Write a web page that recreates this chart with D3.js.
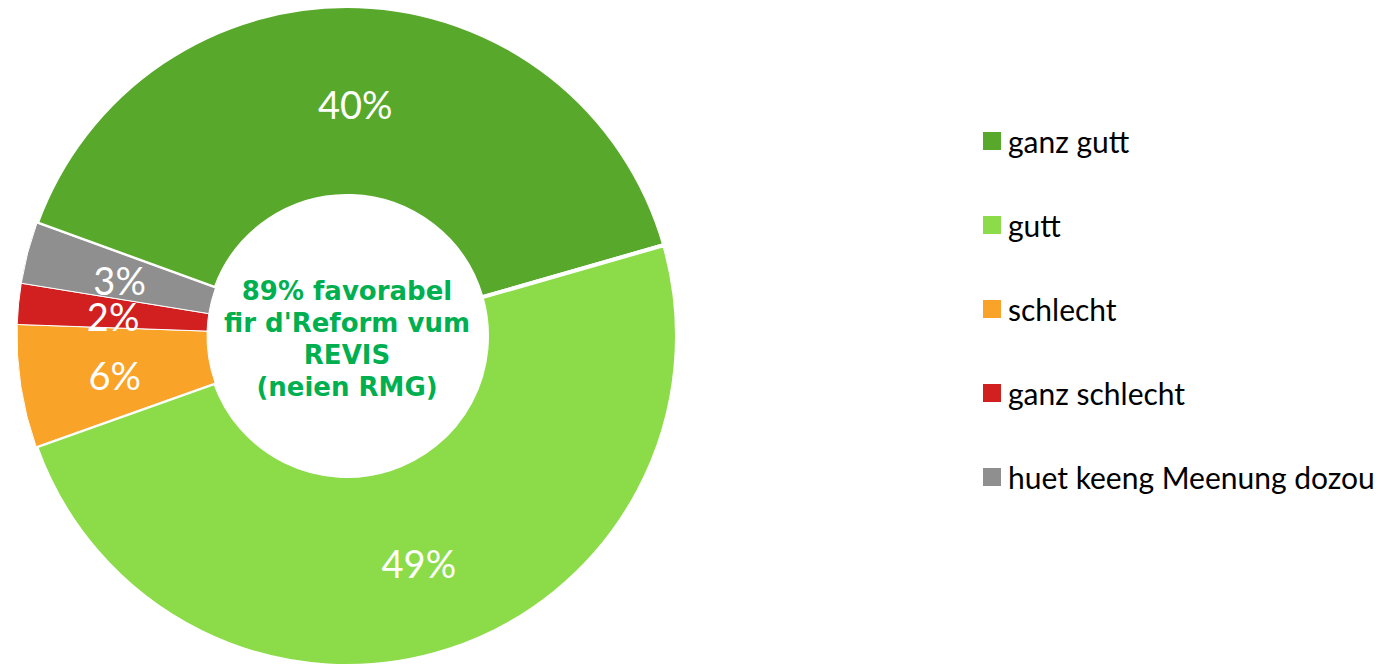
<!DOCTYPE html>
<html>
<head>
<meta charset="utf-8">
<script src="https://cdn.jsdelivr.net/npm/d3@7"></script>
<style>
  html, body { margin: 0; padding: 0; background: #fff; }
  svg { display: block; }
</style>
</head>
<body>
<div id="chart"></div>
<script>
(function() {
'use strict';

var categories = ['ganz gutt', 'gutt', 'schlecht', 'ganz schlecht', 'huet keeng Meenung dozou'];
var values = [40, 49, 6, 2, 3];
var colors = ['#58a82b', '#8cdc4a', '#f9a328', '#d21f1f', '#8f8f8f'];
var centerLines = ['89% favorabel', "fir d'Reform vum", 'REVIS', '(neien RMG)'];

var width = 1384, height = 667;
var cx = 347, cy = 336, outerR = 330, innerR = 140;

var svg = d3.select('#chart').append('svg')
    .attr('width', width).attr('height', height);

var data = categories.map(function (c, i) {
    return { name: c, value: values[i], color: colors[i] };
});

var pie = d3.pie()
    .sort(null)
    .value(function (d) { return d.value; })
    .startAngle(-70 * Math.PI / 180)
    .endAngle(290 * Math.PI / 180);

var arc = d3.arc().innerRadius(innerR).outerRadius(outerR);
var labelArc = d3.arc().innerRadius(235).outerRadius(235);

var g = svg.append('g').attr('transform', 'translate(' + cx + ',' + cy + ')');
var arcs = pie(data);

g.selectAll('path.slice')
    .data(arcs).enter().append('path')
    .attr('class', 'slice')
    .attr('d', arc)
    .attr('fill', function (d) { return d.data.color; })
    .attr('stroke', '#fff')
    .attr('stroke-width', function (d) { return d.index < 2 ? 4 : 1; });

g.selectAll('text.pct')
    .data(arcs).enter().append('text')
    .attr('class', 'pct')
    .attr('transform', function (d) {
        var c = labelArc.centroid(d);
        return 'translate(' + c[0] + ',' + (c[1] + 5) + ')';
    })
    .attr('text-anchor', 'middle')
    .attr('dy', '0.35em')
    .attr('fill', '#fff')
    .style('font-family', 'Lato, "Open Sans", sans-serif')
    .style('font-size', '38px')
    .text(function (d) { return d.data.value + '%'; });

g.append('text')
    .attr('text-anchor', 'middle')
    .attr('fill', '#00b050')
    .style('font-family', '"DejaVu Sans", Verdana, sans-serif')
    .style('font-weight', 'bold')
    .style('font-size', '26px')
    .selectAll('tspan')
    .data(centerLines).enter().append('tspan')
    .attr('x', 0)
    .attr('y', function (d, i) { return -36 + i * 32; })
    .text(function (d) { return d; });

// legend
var legend = svg.append('g').attr('transform', 'translate(983,132)');
var item = legend.selectAll('g')
    .data(data).enter().append('g')
    .attr('transform', function (d, i) { return 'translate(0,' + i * 84 + ')'; });

item.append('rect')
    .attr('width', 18).attr('height', 18)
    .attr('fill', function (d) { return d.color; });

item.append('text')
    .attr('x', 25).attr('y', 21)
    .attr('fill', '#000')
    .style('font-family', 'Lato, "Open Sans", sans-serif')
    .style('font-size', '30px')
    .text(function (d) { return d.name; });

})();
</script>
</body>
</html>
